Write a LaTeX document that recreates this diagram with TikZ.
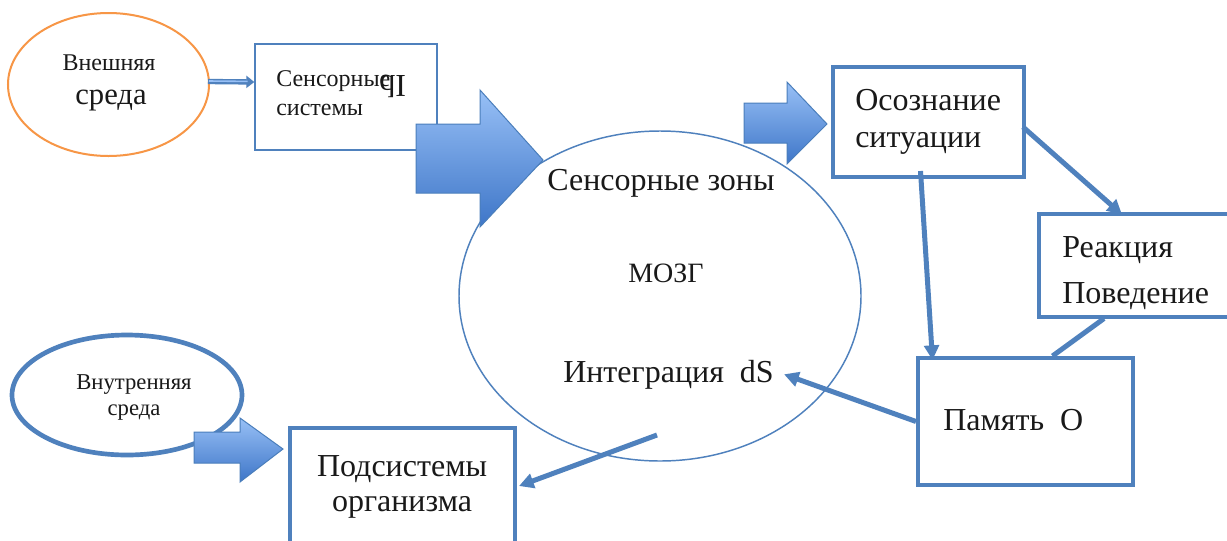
\documentclass[tikz,border=0pt]{standalone}
\usepackage{fontspec}
\setmainfont{Liberation Serif}
\usetikzlibrary{arrows.meta}
\usetikzlibrary{calc}
\usetikzlibrary{shapes.geometric}
\definecolor{linec}{RGB}{79,129,189}
\definecolor{orangec}{RGB}{247,150,70}
\definecolor{arrtop}{RGB}{152,192,246}
\definecolor{arrbot}{RGB}{62,118,200}
\definecolor{arrline}{RGB}{74,126,187}
\definecolor{txtc}{RGB}{25,25,25}
\tikzset{
  ovalnode/.style={ellipse, inner sep=0pt},
  boxnode/.style={rectangle, inner sep=0pt, draw=linec, line width=3pt},
  txt/.style={anchor=base west, inner sep=0pt, text=txtc},
  ctxt/.style={anchor=base, inner sep=0pt, text=txtc},
  conn/.style={draw=linec, line width=3.75pt, -{Triangle[length=11pt,width=11pt]}},
  link/.style={draw=linec, line width=3.75pt},
  blockarr/.style={top color=arrtop, bottom color=arrbot, draw=arrline, line width=0.75pt},
}

\begin{document}
\begin{tikzpicture}[x=0.75pt,y=0.75pt,yscale=-1]
        \clip (0,0) rectangle (1227,540);
        \fill[white] (0,0) rectangle (1227,540);

        %Shape: Ellipse [outer]
        \node[ovalnode, draw=orangec, line width=1.5pt, minimum width=201*0.75pt, minimum height=143*0.75pt] (ext) at (108.5,84.5) {};
        %Shape: Rectangle [sensory]
        \node[boxnode, line width=1pt, minimum width=182*0.75pt, minimum height=106*0.75pt] (sens) at (346,97) {};
        %Shape: Ellipse [brain]
        \node[ovalnode, draw=linec, line width=1.1pt, minimum width=402*0.75pt, minimum height=330*0.75pt] (brain) at (660,296) {};
        %Shape: Rectangle [aware]
        \node[boxnode, minimum width=191*0.75pt, minimum height=110*0.75pt] (aware) at (928.5,122) {};
        %Shape: Rectangle [react]
        \node[boxnode, minimum width=210*0.75pt, minimum height=103*0.75pt] (react) at (1144,265) {};
        %Shape: Rectangle [memory]
        \node[boxnode, minimum width=215*0.75pt, minimum height=127*0.75pt] (mem) at (1025.5,421.5) {};
        %Shape: Rectangle [subsystems]
        \node[boxnode, minimum width=225*0.75pt, minimum height=130*0.75pt] (sub) at (402.5,493) {};
        %Shape: Ellipse [inner]
        \node[ovalnode, draw=linec, line width=3.5pt, minimum width=230*0.75pt, minimum height=120*0.75pt] (inner) at (127,395) {};

        %Block Arrows
        \shade[blockarr] (416,124) -- (480,124) -- (480,90) -- (543,160) -- (480,227) -- (480,193) -- (416,193) -- cycle ;
        \shade[blockarr] (744,103) -- (787,103) -- (787,82) -- (827,124) -- (787,164) -- (787,143) -- (744,143) -- cycle ;
        \shade[blockarr] (194,432) -- (240,432) -- (240,418) -- (283,449) -- (240,482) -- (240,463) -- (194,463) -- cycle ;

        % Text Node
        \node[ctxt, font=\fontsize{18}{20}\selectfont] (extA) at (109,70) {Внешняя};
        \node[ctxt, font=\fontsize{23}{26}\selectfont] (extB) at (111,104) {среда};
        \node[txt, font=\fontsize{18}{20}\selectfont] (sensA) at (276,86) {Сенсорные};
        \node[txt, font=\fontsize{18}{20}\selectfont] (sensB) at (276,115) {системы};
        \node[txt, transform shape, font=\fontsize{24}{26}\selectfont] (sensflip) at (379,75) {dI};
        \node[ctxt, font=\fontsize{24}{28}\selectfont] (zonesT) at (661,190) {Сенсорные зоны};
        \node[ctxt, font=\fontsize{21}{24}\selectfont] (brainT) at (666,282) {МОЗГ};
        \node[txt, font=\fontsize{24}{28}\selectfont] (integT) at (563,382) {Интеграция\ \ dS};
        \node[txt, font=\fontsize{24}{28}\selectfont] (awareA) at (855,110) {Осознание};
        \node[txt, font=\fontsize{24}{28}\selectfont] (awareB) at (855,147) {ситуации};
        \node[txt, font=\fontsize{24}{28}\selectfont] (reactA) at (1062,257) {Реакция};
        \node[txt, font=\fontsize{24}{28}\selectfont] (reactB) at (1062,303) {Поведение};
        \node[txt, font=\fontsize{24}{28}\selectfont] (memT) at (943,430) {Память\ \ О};
        \node[ctxt, font=\fontsize{24}{28}\selectfont] (subA) at (402,476) {Подсистемы};
        \node[ctxt, font=\fontsize{24}{28}\selectfont] (subB) at (402,511) {организма};
        \node[ctxt, font=\fontsize{17}{20}\selectfont] (innerA) at (134,389) {Внутренняя};
        \node[ctxt, font=\fontsize{17}{20}\selectfont] (innerB) at (134,415) {среда};

        %Connectors
        \draw[draw=linec, line width=4pt, -{Triangle[length=6pt,width=9pt]}] ($(ext.east)+(-2,-3)$) -- ($(sens.west)+(0,-15)$) ;
        \draw[draw=arrtop, line width=1.2pt, shorten >=5pt] ($(ext.east)+(-1,-3.5)$) -- ($(sens.west)+(0,-15.5)$) ;
        \draw[conn] ($(aware.south)+(-8,-8)$) -- ($(mem.north)+(-93,4)$) ;
        \draw[conn] ($(aware.east)+(-3,5)$) -- ($(react.north)+(-22,3)$) ;
        \draw[link] ($(react.south)+(-40,0)$) -- ($(mem.north)+(27,0)$) ;
        \draw[conn] ($(mem.west)+(0,0)$) -- ($(integT.east)+(10,0)$) ;
        \draw[conn] ($(brain.center)+(-3,139)$) -- ($(sub.east)+(2,-7)$) ;

\end{tikzpicture}
\end{document}
